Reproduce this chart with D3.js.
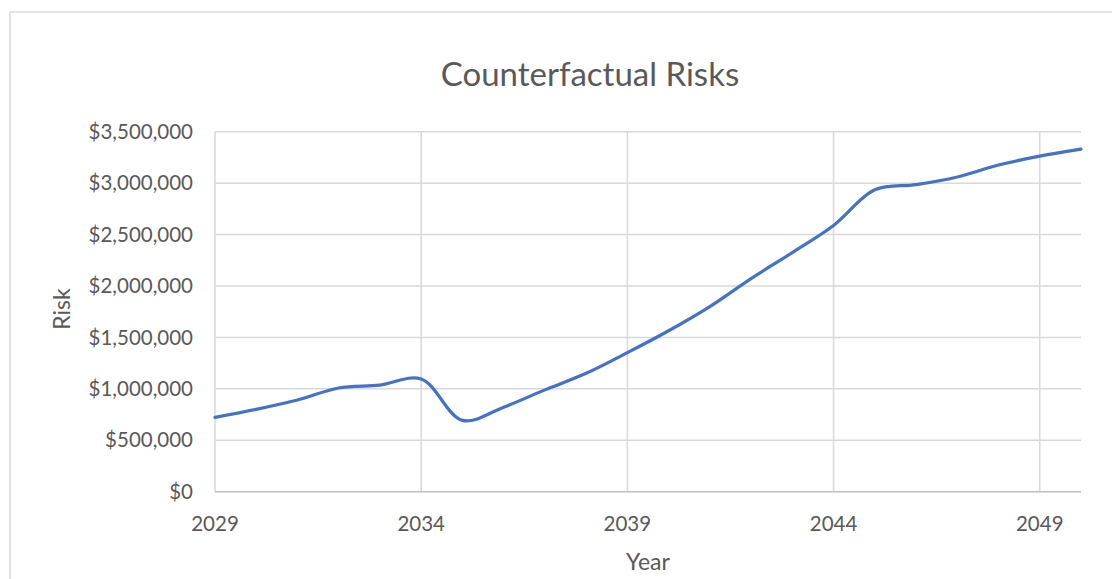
<!DOCTYPE html>
<html>
<head>
<meta charset="utf-8">
<script src="https://cdn.jsdelivr.net/npm/d3@7"></script>
<style>
  body { margin: 0; background: #fff; }
  text { font-family: Lato, "Open Sans", sans-serif; fill: #595959; }
</style>
</head>
<body>
<div id="chart"></div>
<script>
const years = [2029, 2030, 2031, 2032, 2033, 2034, 2035, 2036, 2037, 2038, 2039,
               2040, 2041, 2042, 2043, 2044, 2045, 2046, 2047, 2048, 2049, 2050];
const risk = [723000, 801000, 891000, 1008000, 1037000, 1096000, 693000, 822000, 990000, 1151000, 1352000,
              1565000, 1800000, 2072000, 2325000, 2588000, 2935000, 2985000, 3060000, 3176000, 3262000, 3330000];
const yTicks = [0, 500000, 1000000, 1500000, 2000000, 2500000, 3000000, 3500000];
const xTicks = [2029, 2034, 2039, 2044, 2049];

const chartWidth = 1112, chartHeight = 579;
const plotLeft = 215, plotRight = 1081, plotTop = 131.7, plotBottom = 491.7;

const svg = d3.select("#chart").append("svg")
    .attr("width", chartWidth)
    .attr("height", chartHeight);

// outer chart frame
svg.append("rect")
    .attr("x", 10).attr("y", 12)
    .attr("width", 1110).attr("height", 600)
    .attr("fill", "none")
    .attr("stroke", "#d9d9d9")
    .attr("stroke-width", 1.5);

const x = d3.scaleLinear().domain([2029, 2050]).range([plotLeft, plotRight]);
const y = d3.scaleLinear().domain([0, 3500000]).range([plotBottom, plotTop]);

// horizontal gridlines
svg.append("g")
    .selectAll("line")
    .data(yTicks.slice(1))
    .enter()
    .append("line")
    .attr("x1", plotLeft).attr("x2", plotRight)
    .attr("y1", d => y(d)).attr("y2", d => y(d))
    .attr("stroke", "#d9d9d9")
    .attr("stroke-width", 1.5);

// vertical gridlines
svg.append("g")
    .selectAll("line")
    .data(xTicks)
    .enter()
    .append("line")
    .attr("x1", d => x(d)).attr("x2", d => x(d))
    .attr("y1", plotTop).attr("y2", plotBottom)
    .attr("stroke", "#d9d9d9")
    .attr("stroke-width", 1.5);

// x axis line
svg.append("line")
    .attr("x1", plotLeft).attr("x2", plotRight)
    .attr("y1", plotBottom).attr("y2", plotBottom)
    .attr("stroke", "#bfbfbf")
    .attr("stroke-width", 1.5);

const fmt = d3.format("$,.0f");
svg.append("g")
    .selectAll("text")
    .data(yTicks)
    .enter()
    .append("text")
    .attr("x", 193)
    .attr("y", d => y(d))
    .attr("dy", "0.35em")
    .attr("text-anchor", "end")
    .attr("font-size", "20.5px")
    .text(d => fmt(d));

svg.append("g")
    .selectAll("text")
    .data(xTicks)
    .enter()
    .append("text")
    .attr("x", d => x(d))
    .attr("y", 531)
    .attr("text-anchor", "middle")
    .attr("font-size", "20.5px")
    .text(d => d);

// series line
const line = d3.line()
    .x((d, i) => x(years[i]))
    .y(d => y(d))
    .curve(d3.curveCatmullRom.alpha(0.5));

svg.append("path")
    .datum(risk)
    .attr("fill", "none")
    .attr("stroke", "#4472c4")
    .attr("stroke-width", 3.2)
    .attr("stroke-linecap", "round")
    .attr("d", line);

// titles
svg.append("text")
    .attr("x", 590).attr("y", 86)
    .attr("text-anchor", "middle")
    .attr("font-size", "33px")
    .text("Counterfactual Risks");

svg.append("text")
    .attr("transform", "translate(70,309) rotate(-90)")
    .attr("text-anchor", "middle")
    .attr("font-size", "23px")
    .text("Risk");

svg.append("text")
    .attr("x", 648).attr("y", 570)
    .attr("text-anchor", "middle")
    .attr("font-size", "23px")
    .text("Year");
</script>
</body>
</html>
